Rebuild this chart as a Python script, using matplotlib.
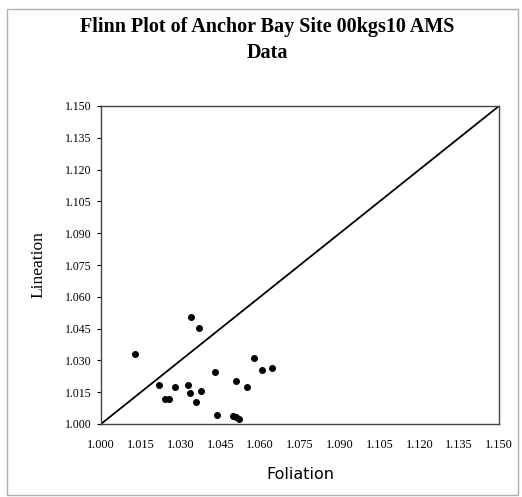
import numpy as np
import matplotlib.pyplot as plt
from matplotlib.patches import Rectangle

# foliation (F) and lineation (L) for each specimen
foliation = [1.0338, 1.0368, 1.0127, 1.0577, 1.0608, 1.0646, 1.0430, 1.0509,
             1.0549, 1.0217, 1.0280, 1.0328, 1.0335, 1.0377, 1.0240, 1.0257,
             1.0358, 1.0437, 1.0496, 1.0508, 1.0519]
lineation = [1.0503, 1.0454, 1.0330, 1.0313, 1.0253, 1.0263, 1.0244, 1.0204,
             1.0176, 1.0182, 1.0175, 1.0185, 1.0146, 1.0157, 1.0119, 1.0119,
             1.0104, 1.0042, 1.0036, 1.0033, 1.0024]
ticks = [1.000, 1.015, 1.030, 1.045, 1.060, 1.075, 1.090, 1.105, 1.120, 1.135, 1.150]
tick_labels = ['%.3f' % t for t in ticks]

fig = plt.figure(figsize=(5.22, 4.97), dpi=100)
ax = fig.add_axes([101/522, 1-424/497, 398/522, 318/497])

# k = 1 reference line
ax.plot([ticks[0], ticks[-1]], [ticks[0], ticks[-1]], color='black', lw=1.3)
ax.plot(foliation, lineation, 'o', color='black', ms=4.0, ls='none')

ax.set_xlim(ticks[0], ticks[-1])
ax.set_ylim(ticks[0], ticks[-1])
ax.set_xticks(ticks)
ax.set_yticks(ticks)
ax.set_xticklabels(tick_labels, family='Liberation Serif', fontsize=8.8)
ax.set_yticklabels(tick_labels, family='Liberation Serif', fontsize=8.5)
ax.tick_params(direction='out', length=3, width=0.8, pad=4)
ax.tick_params(axis='x', length=0, pad=11)
for s in ax.spines.values():
    s.set_color('#444444')
    s.set_linewidth(1.0)

ax.set_xlabel('Foliation', family='DejaVu Sans', fontsize=11.5, labelpad=11)
ax.set_ylabel('Lineation', family='Liberation Serif', fontsize=12.5, labelpad=13)

fig.text(0.512, 1-27/497, 'Flinn Plot of Anchor Bay Site 00kgs10 AMS',
         ha='center', va='center', family='Liberation Serif', weight='bold', fontsize=14.5)
fig.text(0.512, 1-53/497, 'Data', ha='center', va='center',
         family='Liberation Serif', weight='bold', fontsize=14.5)

# chart area frame
fig.patches.append(Rectangle((7/522, 2/497), 511/522, 486/497, transform=fig.transFigure,
                             fill=False, edgecolor='#b0b0b0', lw=1.0))

fig.savefig('out.png', dpi=100)
